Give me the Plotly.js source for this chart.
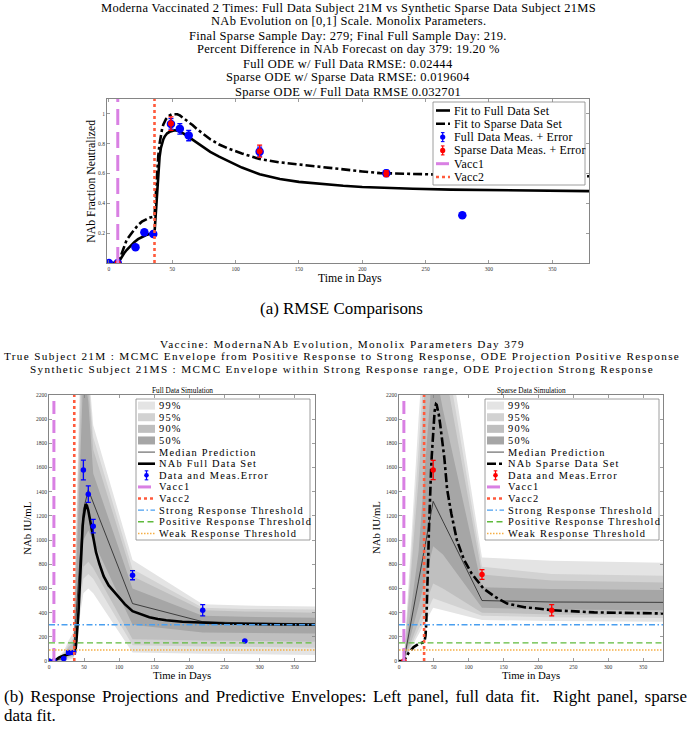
<!DOCTYPE html>
<html>
<head>
<meta charset="utf-8">
<script src="https://cdn.plot.ly/plotly-3.0.1.min.js"></script>
<style>html,body{margin:0;padding:0;background:#fff;}#chart{width:687px;height:729px;}</style>
</head>
<body>
<div id="chart"></div>
<script>
// ================= DATA =================
// (a) RMSE comparisons, NAb on [0,1] scale
const fitDaysA = [0,7,8,10,12,14,17,20,23,26,29,32,35,36,37,38,39,40,41,42,43,44,45,46,48,50,52,54,56,58,60,63,66,70,75,80,87,95,105,119,135,150,166,185,200,214,240,270,300,340,379];
const fullFitA = [0,0,0.01,0.04,0.065,0.087,0.115,0.14,0.16,0.175,0.186,0.194,0.2,0.2,0.33,0.48,0.62,0.71,0.77,0.805,0.83,0.848,0.86,0.87,0.88,0.887,0.89,0.888,0.882,0.873,0.863,0.846,0.828,0.803,0.773,0.745,0.713,0.68,0.64,0.595,0.563,0.544,0.53,0.518,0.51,0.505,0.498,0.492,0.488,0.484,0.482];
const sparseFitA = [0,0,0.015,0.06,0.1,0.154,0.19,0.225,0.255,0.277,0.293,0.304,0.31,0.313,0.45,0.6,0.72,0.8,0.86,0.9,0.93,0.95,0.965,0.975,0.99,0.998,1.0,0.998,0.99,0.978,0.966,0.945,0.925,0.895,0.86,0.83,0.795,0.765,0.735,0.697,0.675,0.66,0.646,0.628,0.614,0.603,0.596,0.591,0.587,0.584,0.582];
const fullDays = [0,7,21,28,35,49,56,63,119,219,279];
const fullMeasA = [0,0,0.105,0.206,0.195,0.933,0.9,0.855,0.747,0.602,0.32];
const fullErrA = [0,0,0,0,0,0.035,0.035,0.035,0.03,0.02,0];
const sparseDays = [7,49,119,219];
const sparseMeasA = [0,0.935,0.75,0.6];
const sparseErrA = [0,0.045,0.04,0.02];
const vaccDays = [7,36];

// (b) NAb IU/mL, full data simulation (left)
const fitDaysB = [0,7,10,14,21,28,35,36,37,38,39,40,41,42,43,44,45,46,47,48,49,50,51,52,53,54,56,58,60,63,67,72,78,85,96,108,119,131,143,155,167,190,219,250,300,340,379];
const fullFitB = [0,0,10,28,45,57,64,66,75,100,160,230,300,400,520,660,790,920,1050,1120,1180,1235,1270,1288,1292,1285,1245,1185,1120,1015,900,800,700,625,550,470,412,385,362,348,337,325,315,310,305,302,300];
const fullMeasB = [0,0,20,70,70,1580,1380,1115,710,420,165];
const fullErrB = [0,0,8,14,14,82,68,56,38,46,0];
const envDaysFull = [0,7,21,28,35,49,56,63,119,219,279,379];
const full99lo = [0,0,0,10,20,560,600,560,70,60,55,50];
const full95lo = [0,0,3,25,35,680,720,680,130,120,115,110];
const full90lo = [0,0,6,35,45,780,820,770,180,170,165,160];
const full50lo = [0,0,12,50,60,1000,1080,1000,300,235,232,228];
const full50hi = [0,0,35,85,100,2400,2150,1550,600,375,365,358];
const full90hi = [0,0,55,115,150,2900,2300,1750,700,420,410,400];
const full95hi = [0,0,65,140,190,3200,2380,1850,760,440,430,425];
const full99hi = [0,0,80,170,240,3500,2450,1950,835,470,458,450];
const fullMedian = [0,0,25,55,70,1250,1415,1310,475,325,315,308];

// (b) sparse data simulation (right)
const fitDaysC = [0,7,10,14,21,28,35,36,37,38,39,40,41,42,43,44,45,46,47,48,49,50,51,52,53,54,55,57,59,62,65,69,75,83,93,104,121,138,155,180,220,280,330,379];
const sparseFitB = [0,0,30,70,115,140,155,160,175,210,300,450,650,870,1100,1320,1480,1580,1700,1820,1920,2000,2060,2100,2125,2120,2100,2040,1960,1820,1680,1420,1220,1000,840,725,600,530,475,445,420,402,396,393];
const sparseMeasB = [0,1580,715,420];
const sparseErrB = [0,80,40,46];
const envDaysSparse = [0,7,28,49,63,119,219,379];
const sp99lo = [0,0,220,440,420,340,330,324];
const sp95lo = [0,0,260,520,495,375,362,355];
const sp90lo = [0,0,320,640,600,400,385,378];
const sp50lo = [0,0,450,950,880,440,425,420];
const sp50hi = [0,0,900,2500,2080,610,595,588];
const sp90hi = [0,0,1500,3300,2500,715,665,650];
const sp95hi = [0,0,1750,3550,2700,780,720,705];
const sp99hi = [0,0,2000,3800,2900,855,830,813];
const sparseMedian = [0,0,660,1320,1156,500,488,485];

const thresholds = [300,150,90]; // strong, positive, weak
const xTicks = [0,50,100,150,200,250,300,350];
const yTicksA = [0.2,0.4,0.6,0.8,1];
const yTickTextA = ['0.2','0.4','0.6','0.8','1'];
const yTicksB = [0,200,400,600,800,1000,1200,1400,1600,1800,2000,2200];

const titleA = [
  'Moderna Vaccinated 2 Times: Full Data Subject 21M vs Synthetic Sparse Data Subject 21MS',
  'NAb Evolution on [0,1] Scale. Monolix Parameters.',
  'Final Sparse Sample Day: 279; Final Full Sample Day: 219.',
  'Percent Difference in NAb Forecast on day 379: 19.20 %',
  'Full ODE w/ Full Data RMSE: 0.02444',
  'Sparse ODE w/ Sparse Data RMSE: 0.019604',
  'Sparse ODE w/ Full Data RMSE 0.032701'
];
const titleB = [
  'Vaccine: ModernaNAb Evolution, Monolix Parameters Day 379',
  'True Subject 21M : MCMC Envelope from Positive Response to Strong Response, ODE Projection Positive Response',
  'Synthetic Subject 21MS : MCMC Envelope within Strong Response range, ODE Projection Strong Response'
];
const captionA = '(a) RMSE Comparisons';
const captionB = ['(b) Response Projections and Predictive Envelopes: Left panel, full data fit.\u00a0 Right panel, sparse', 'data fit.'];

// ================= STYLE / LAYOUT =================
const W = 687, H = 729;
const px = v => v / W;
const py = v => 1 - v / H;
const SERIF = 'Liberation Serif, DejaVu Serif, serif';
const AX = '#858585';
const C = {blue:'#0000ff', red:'#ff0000', vacc1:'#d980e3', vacc2:'#ff5a3c',
  strong:'#4a9ff0', positive:'#5fba3c', weak:'#f5ae45',
  b99:'#e4e4e4', b95:'#d2d2d2', b90:'#bfbfbf', b50:'#a6a6a6'};
const DASH_V1 = '13px,6px';
const DASH_STRONG = '6px,2.5px,1.5px,2.5px';
const DASH_POS = '6px,3.5px';
const DASH_WEAK = '1.5px,1.5px';

const ctx = document.createElement('canvas').getContext('2d');
function measure(text, fs) { ctx.font = fs + 'px ' + SERIF; return ctx.measureText(text).width; }
function fitFont(text, target, max) {
  const s = 100 * target / measure(text, 100);
  return max ? Math.min(s, max) : s;
}
function spacingFor(text, fs, target) { return Math.max(0, (target - measure(text, fs)) / text.length); }
function spaced(text, ls) {
  return ls > 0.05 ? '<span style="letter-spacing:' + ls.toFixed(2) + 'px">' + text + '</span>' : text;
}
function justified(text, fs, target) {
  const n = (text.match(/[ \u00a0]/g) || []).length;
  const ws = Math.max(0, (target - measure(text, fs)) / n);
  return ws > 0.05 ? '<span style="word-spacing:' + ws.toFixed(2) + 'px">' + text + '</span>' : text;
}

const fsTitleA = fitFont(titleA[0], 495, 12.5);
const lsTitleA = spacingFor(titleA[0], fsTitleA, 495);
const fsTitleB = 11.2;
const lsTitleB = spacingFor(titleB[1], fsTitleB, 676);
const fsCapA = fitFont(captionA, 163);
const fsCapB = Math.min(fitFont(captionB[0], 684), fsCapA);
const fsLegA = fitFont('Sparse Data Meas. + Error', 131.6, 11.9);
const lsLegA = spacingFor('Sparse Data Meas. + Error', fsLegA, 131.6);
const fsLegB = 10.4;
const lsLegB = spacingFor('Strong Response Threshold', fsLegB, 145);
const fsYA = fitFont('NAb Fraction Neutralized', 123);
const fsXA = fitFont('Time in Days', 63.7);
const fsXB = fitFont('Time in Days', 58.3);
const fsPanel = fitFont('Full Data Simulation', 61);

function axis(extra) {
  return Object.assign({
    showline:true, linecolor:AX, linewidth:1, mirror:'ticks',
    ticks:'inside', ticklen:3, tickcolor:AX, tickwidth:0.8,
    showgrid:false, zeroline:false, fixedrange:true, automargin:false,
    tickfont:{family:SERIF, size:5.5, color:'#333'}
  }, extra);
}

const traces = [];
function line(xa, ya, x, y, color, width, dash, name) {
  traces.push({type:'scatter', mode:'lines', x:x, y:y, xaxis:xa, yaxis:ya, name:name,
    line:{color:color, width:width, dash:dash}, hoverinfo:'skip', showlegend:false});
}
function band(xa, ya, days, lo, hi, color, name) {
  traces.push({type:'scatter', mode:'lines', xaxis:xa, yaxis:ya, name:name,
    x:days.concat(days.slice().reverse()), y:hi.concat(lo.slice().reverse()),
    fill:'toself', fillcolor:color, line:{width:0, color:color}, hoverinfo:'skip', showlegend:false});
}
function meas(xa, ya, x, y, err, color, size, name) {
  traces.push({type:'scatter', mode:'markers', x:x, y:y, xaxis:xa, yaxis:ya, name:name,
    marker:{color:color, size:size, line:{width:0}},
    error_y:{type:'data', array:err, visible:true, color:color, thickness:1.3, width:2.5},
    hoverinfo:'skip', showlegend:false});
}

// ---- (a) ----
line('x','y', fitDaysA, fullFitA, '#000', 2.6, 'solid', 'Fit to Full Data Set');
line('x','y', fitDaysA, sparseFitA, '#000', 2.6, 'dashdot', 'Fit to Sparse Data Set');
meas('x','y', fullDays, fullMeasA, fullErrA, C.blue, 8.5, 'Full Data Meas. + Error');
meas('x','y', sparseDays, sparseMeasA, sparseErrA, C.red, 6, 'Sparse Data Meas. + Error');
line('x','y', [vaccDays[0], vaccDays[0]], [0, 1.1], C.vacc1, 3, '16px,7px', 'Vacc1');
line('x','y', [vaccDays[1], vaccDays[1]], [0, 1.1], C.vacc2, 2.6, 'dot', 'Vacc2');

// ---- (b) panels ----
function panelB(xa, ya, envDays, bands, median, fitDays, fit, fitDash, mDays, mVals, mErr, mColor) {
  band(xa, ya, envDays, bands[0][0], bands[0][1], C.b99, '99%');
  band(xa, ya, envDays, bands[1][0], bands[1][1], C.b95, '95%');
  band(xa, ya, envDays, bands[2][0], bands[2][1], C.b90, '90%');
  band(xa, ya, envDays, bands[3][0], bands[3][1], C.b50, '50%');
  line(xa, ya, envDays, median, '#222', 0.8, 'solid', 'Median Prediction');
  line(xa, ya, fitDays, fit, '#000', 2.6, fitDash, 'NAb fit');
  meas(xa, ya, mDays, mVals, mErr, mColor, 5.5, 'Data and Meas.Error');
  line(xa, ya, [vaccDays[0], vaccDays[0]], [0, 2200], C.vacc1, 3, DASH_V1, 'Vacc1');
  line(xa, ya, [vaccDays[1], vaccDays[1]], [0, 2200], C.vacc2, 2.6, 'dot', 'Vacc2');
  line(xa, ya, [0, 379], [thresholds[0], thresholds[0]], C.strong, 1.3, DASH_STRONG, 'Strong Response Threshold');
  line(xa, ya, [0, 379], [thresholds[1], thresholds[1]], C.positive, 1.4, DASH_POS, 'Positive Response Threshold');
  line(xa, ya, [0, 379], [thresholds[2], thresholds[2]], C.weak, 1.5, DASH_WEAK, 'Weak Response Threshold');
}
panelB('x2','y2', envDaysFull, [[full99lo,full99hi],[full95lo,full95hi],[full90lo,full90hi],[full50lo,full50hi]],
  fullMedian, fitDaysB, fullFitB, 'solid', fullDays, fullMeasB, fullErrB, C.blue);
panelB('x3','y3', envDaysSparse, [[sp99lo,sp99hi],[sp95lo,sp95hi],[sp90lo,sp90hi],[sp50lo,sp50hi]],
  sparseMedian, fitDaysC, sparseFitB, 'dashdot', sparseDays, sparseMeasB, sparseErrB, C.red);

// ================= LEGENDS (drawn as layout shapes + text) =================
const shapes = [], annotations = [];
function legend(box, entries, cfg) {
  shapes.push({type:'rect', xref:'paper', yref:'paper', layer:'above',
    x0:px(box[0]), x1:px(box[2]), y0:py(box[3]), y1:py(box[1]),
    fillcolor:'#ffffff', line:{color:AX, width:0.8}});
  entries.forEach((e, i) => {
    const cy = cfg.y + i * cfg.step;
    const sx0 = box[0] + cfg.s0, sx1 = box[0] + cfg.s1;
    if (e.kind === 'patch') {
      shapes.push({type:'rect', xref:'paper', yref:'paper', layer:'above',
        x0:px(sx0), x1:px(sx1), y0:py(cy + cfg.ph), y1:py(cy - cfg.ph), fillcolor:e.color, line:{width:0}});
    } else if (e.kind === 'line') {
      shapes.push({type:'line', xref:'paper', yref:'paper', layer:'above',
        x0:px(sx0), x1:px(sx1), y0:py(cy), y1:py(cy), line:{color:e.color, width:e.width, dash:e.dash}});
    } else {
      const mx = box[0] + cfg.mx;
      shapes.push({type:'line', xref:'paper', yref:'paper', layer:'above',
        x0:px(mx), x1:px(mx), y0:py(cy + cfg.eb), y1:py(cy - cfg.eb), line:{color:e.color, width:1.2}});
      [cy - cfg.eb, cy + cfg.eb].forEach(yy => shapes.push({type:'line', xref:'paper', yref:'paper', layer:'above',
        x0:px(mx - 1.8), x1:px(mx + 1.8), y0:py(yy), y1:py(yy), line:{color:e.color, width:1.1}}));
      shapes.push({type:'circle', xref:'paper', yref:'paper', layer:'above',
        x0:px(mx - cfg.r), x1:px(mx + cfg.r), y0:py(cy + cfg.r), y1:py(cy - cfg.r), fillcolor:e.color, line:{width:0}});
    }
    annotations.push({xref:'paper', yref:'paper', x:px(box[0] + cfg.tx), y:py(cy), xanchor:'left', yanchor:'middle',
      text:spaced(e.label, cfg.ls), showarrow:false, font:{family:SERIF, size:cfg.fs, color:'#000'}});
  });
}
legend([433, 102, 585, 185], [
  {label:'Fit to Full Data Set', kind:'line', color:'#000', width:2.6, dash:'solid'},
  {label:'Fit to Sparse Data Set', kind:'line', color:'#000', width:2.6, dash:'dashdot'},
  {label:'Full Data Meas. + Error', kind:'marker', color:C.blue},
  {label:'Sparse Data Meas. + Error', kind:'marker', color:C.red},
  {label:'Vacc1', kind:'line', color:C.vacc1, width:3, dash:DASH_V1},
  {label:'Vacc2', kind:'line', color:C.vacc2, width:2.6, dash:'dot'}
], {y:110.5, step:13.3, s0:3, s1:17, tx:18.5, mx:9.7, eb:4.5, r:2.6, ph:4, fs:fsLegA, ls:lsLegA});

function legendB(x0, fitLabel, fitDash, mColor) {
  legend([x0, 399, x0 + 174, 540], [
    {label:'99%', kind:'patch', color:C.b99},
    {label:'95%', kind:'patch', color:C.b95},
    {label:'90%', kind:'patch', color:C.b90},
    {label:'50%', kind:'patch', color:C.b50},
    {label:'Median Prediction', kind:'line', color:'#222', width:0.8, dash:'solid'},
    {label:fitLabel, kind:'line', color:'#000', width:2.6, dash:fitDash},
    {label:'Data and Meas.Error', kind:'marker', color:mColor},
    {label:'Vacc1', kind:'line', color:C.vacc1, width:3, dash:DASH_V1},
    {label:'Vacc2', kind:'line', color:C.vacc2, width:2.6, dash:'dot'},
    {label:'Strong Response Threshold', kind:'line', color:C.strong, width:1.3, dash:DASH_STRONG},
    {label:'Positive Response Threshold', kind:'line', color:C.positive, width:1.4, dash:DASH_POS},
    {label:'Weak Response Threshold', kind:'line', color:C.weak, width:1.5, dash:DASH_WEAK}
  ], {y:405.6, step:11.62, s0:2, s1:19, tx:20.5, mx:10.5, eb:4.5, r:2.3, ph:4, fs:fsLegB, ls:lsLegB});
}
legendB(136, 'NAb Full Data Set', 'solid', C.blue);
legendB(485, 'NAb Sparse Data Set', 'dashdot', C.red);

// ================= TEXT =================
function txt(text, x, y, size, anchor, angle) {
  annotations.push({xref:'paper', yref:'paper', x:px(x), y:py(y), xanchor:anchor || 'center', yanchor:'middle',
    text:text, showarrow:false, textangle:angle || 0, font:{family:SERIF, size:size, color:'#000'}});
}
titleA.forEach((t, i) => txt(spaced(t, lsTitleA), 348, 7.5 + 14.0 * i, fsTitleA));
titleB.forEach((t, i) => txt(spaced(t, lsTitleB), 342, 343.5 + 12.5 * i, fsTitleB));
txt('Full Data Simulation', 182, 391.3, fsPanel);
txt('Sparse Data Simulation', 531, 391.3, fsPanel);
txt(captionA, 341, 308, fsCapA);
txt(justified(captionB[0], fsCapB, 683), 2, 696, fsCapB, 'left');
txt(captionB[1], 2, 715, fsCapB, 'left');
// axis titles
txt('Time in Days', 350, 278.5, fsXA);
txt('NAb Fraction Neutralized', 91.7, 181, fsYA, 'center', -90);
txt('Time in Days', 182, 675.3, fsXB);
txt('NAb IU/mL', 26.7, 528, fsXB, 'center', -90);
txt('Time in Days', 531, 675.3, fsXB);
txt('NAb IU/mL', 376, 528, fsXB, 'center', -90);

const layout = {
  width:W, height:H, margin:{l:0, r:0, t:0, b:0}, paper_bgcolor:'#fff', plot_bgcolor:'#fff',
  showlegend:false,
  xaxis: axis({domain:[px(107), px(589)], range:[-1.5, 379], tickvals:xTicks, anchor:'y'}),
  yaxis: axis({domain:[py(263), py(99)], range:[0, 1.1], tickvals:yTicksA, ticktext:yTickTextA, anchor:'x'}),
  xaxis2: axis({domain:[px(49), px(315)], range:[0, 379], tickvals:xTicks, anchor:'y2'}),
  yaxis2: axis({domain:[py(661), py(395)], range:[0, 2200], tickvals:yTicksB, anchor:'x2'}),
  xaxis3: axis({domain:[px(399), px(663.3)], range:[0, 379], tickvals:xTicks, anchor:'y3'}),
  yaxis3: axis({domain:[py(661), py(395)], range:[0, 2200], tickvals:yTicksB, anchor:'x3'}),
  shapes:shapes, annotations:annotations
};
Plotly.newPlot('chart', traces, layout, {staticPlot:true, displayModeBar:false});
</script>
</body>
</html>
